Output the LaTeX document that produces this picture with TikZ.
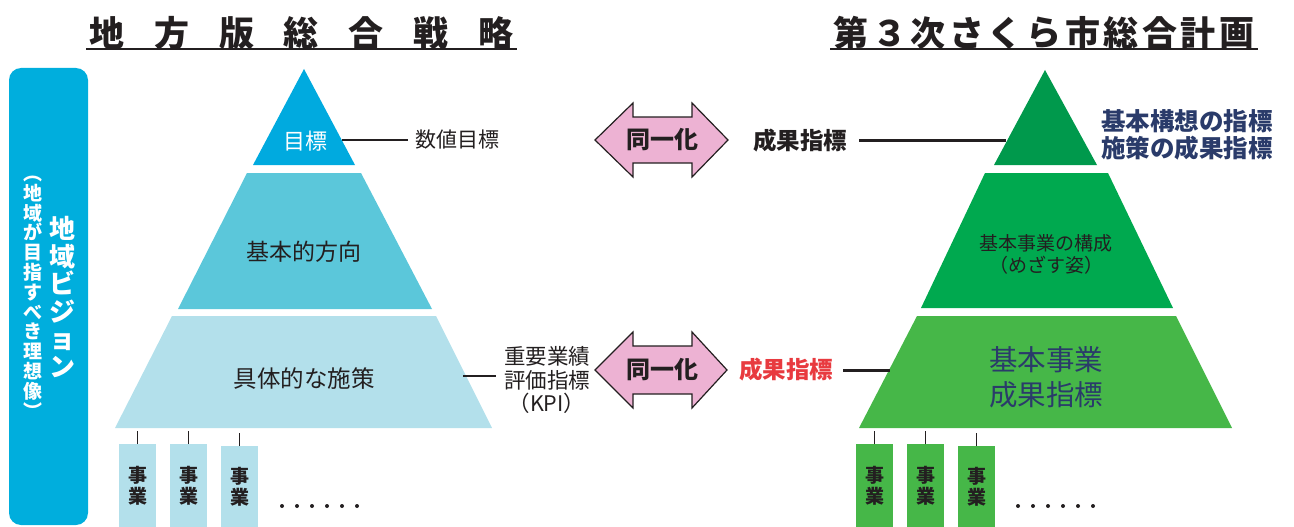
\documentclass[tikz,border=0pt]{standalone}
\usepackage{fontspec}
\setmainfont{Noto Sans CJK JP}
\usetikzlibrary{calc}
\definecolor{barblue}{HTML}{00AEDD}
\definecolor{topblue}{HTML}{00AADF}
\definecolor{midblue}{HTML}{5BC7DA}
\definecolor{lowblue}{HTML}{B3E0EB}
\definecolor{arrowpink}{HTML}{EDB2D3}
\definecolor{topgreen}{HTML}{00994C}
\definecolor{midgreen}{HTML}{00A94F}
\definecolor{lowgreen}{HTML}{46B748}
\definecolor{navy}{HTML}{2A3B6A}
\definecolor{redtxt}{HTML}{E83A3F}
\definecolor{ink}{HTML}{231F20}
\tikzset{
  every node/.style={inner sep=0pt, outer sep=0pt, text=ink},
  titlechar/.style={font=\bfseries\fontsize{35}{35}\selectfont},
  jbox/.style={anchor=north west, minimum width=37pt, align=center,
     font=\bfseries\fontsize{19}{21}\selectfont},
  tick/.style={draw=ink, line width=1.5pt},
  thinlink/.style={draw=ink, line width=1.5pt},
  thicklink/.style={draw=ink, line width=3pt},
  dblarrow/.style={fill=arrowpink, draw=ink, line width=1.2pt, line join=miter},
  dots/.style={fill=ink},
}
\begin{document}
\begin{tikzpicture}[x=1pt,y=-1pt]
\useasboundingbox (0,0) rectangle (1294,527);

% titles
\foreach \c [count=\i from 0] in {地,方,版,総,合,戦,略}
  \node[titlechar] (lt\i) at ({107+64.8*\i},33) {\c};
\draw[line width=2.2pt, draw=ink] (86,49) -- (517,49);
\foreach \c [count=\i from 0] in {第,３,次,さ,く,ら,市,総,合,計,画}
  \node[titlechar] (rt\i) at ({851+38.6*\i},33) {\c};
\draw[line width=2.2pt, draw=ink] (830,49) -- (1258,49);

% left vision bar
\fill[barblue, rounded corners=12pt] (9,68) rectangle (88,525);
\node[text=white, font=\bfseries\fontsize{26}{27.5}\selectfont, align=center]
  (vision) at (62,297) {地\\域\\ビ\\ジ\\ョ\\ン};
\node[text=white, font=\bfseries\fontsize{19}{19.8}\selectfont, align=center]
  (visionsub) at (33,297) {︵\\地\\域\\が\\目\\指\\す\\べ\\き\\理\\想\\像\\︶};

% left pyramid
\fill[topblue] (304,69) -- (355,165) -- (253,165) -- cycle;
\fill[midblue] (247,173) -- (361,173) -- (432,309) -- (178,309) -- cycle;
\fill[lowblue] (172,316) -- (436,316) -- (492,428) -- (115,428) -- cycle;
\node[text=white, font=\fontsize{22}{22}\selectfont] (goal) at (305,141) {目標};
\node[font=\fontsize{23}{23}\selectfont] (basic) at (304,252) {基本的方向};
\node[font=\fontsize{23.5}{23.5}\selectfont] (concrete) at (304,379) {具体的な施策};

\coordinate (goaledge) at (342,140);
\node[font=\fontsize{21}{21}\selectfont, anchor=west] (numgoal) at (415,140) {数値目標};
\draw[thinlink] (goaledge) -- ($(numgoal.west)+(-7,0)$);

\coordinate (kpiedge) at (463,376);
\node[font=\fontsize{21.5}{23.5}\selectfont, align=center] (kpi) at (547,380) {重要業績\\評価指標\\（KPI）};
\draw[thinlink] (kpiedge) -- (496,376);

% left jigyo boxes
\node[jbox, fill=lowblue, minimum height=83pt] (lb1) at (119,444) {事\\業};
\node[jbox, fill=lowblue, minimum height=83pt] (lb2) at (170,444) {事\\業};
\node[jbox, fill=lowblue, minimum height=81pt] (lb3) at (221,446) {事\\業};
\draw[tick] (lb1.north) -- ++(0,-13);
\draw[tick] (lb2.north) -- ++(0,-13);
\draw[tick] (lb3.north) -- ++(0,-13);
\foreach \k in {0,...,5} \fill[dots] ({282+15*\k},506) circle (2);

% arrows
\draw[dblarrow] (595,140) -- ++(38,-37) -- ++(0,14) -- ++(59,0) -- ++(0,-14)
  -- ++(36,37) -- ++(-36,37) -- ++(0,-14) -- ++(-59,0) -- ++(0,14) -- cycle;
\node[font=\bfseries\fontsize{24}{24}\selectfont] (same1) at (662,140) {同一化};
\draw[dblarrow] (595,370) -- ++(38,-38) -- ++(0,14) -- ++(59,0) -- ++(0,-14)
  -- ++(35,38) -- ++(-35,38) -- ++(0,-14) -- ++(-59,0) -- ++(0,14) -- cycle;
\node[font=\bfseries\fontsize{24}{24}\selectfont] (same2) at (662,370) {同一化};

% right labels
\node[font=\bfseries\fontsize{23.5}{23.5}\selectfont] (res1) at (800,141) {成果指標};
\coordinate (gtopedge) at (1006,140);
\node[text=redtxt, font=\bfseries\fontsize{23.5}{23.5}\selectfont] (res2) at (786,370) {成果指標};
\coordinate (glowedge) at (890,370);

% right pyramid
\fill[topgreen] (1045,70) -- (1097,165) -- (994,165) -- cycle;
\fill[midgreen] (985,173) -- (1108,173) -- (1173,308) -- (921,308) -- cycle;
\fill[lowgreen] (917,316) -- (1176,316) -- (1232,428) -- (859,428) -- cycle;
\draw[thicklink] ($(res1.east)+(12,-1)$) -- (gtopedge);
\draw[thicklink] ($(res2.east)+(10,0)$) -- (glowedge);

\node[text=navy, font=\bfseries\fontsize{24.5}{27}\selectfont, align=left, anchor=west]
  (kousou) at (1101,135) {基本構想の指標\\施策の成果指標};
\node[font=\fontsize{19}{22}\selectfont, align=center] (kousei) at (1046,254) {基本事業の構成\\（めざす姿）};
\node[text=navy, font=\fontsize{28.5}{35}\selectfont, align=center] (jigyoseika) at (1046,377) {基本事業\\成果指標};

% right jigyo boxes
\node[jbox, fill=lowgreen, minimum height=83pt] (rb1) at (856,444) {事\\業};
\node[jbox, fill=lowgreen, minimum height=83pt] (rb2) at (907,444) {事\\業};
\node[jbox, fill=lowgreen, minimum height=81pt] (rb3) at (958,446) {事\\業};
\draw[tick] (rb1.north) -- ++(0,-13);
\draw[tick] (rb2.north) -- ++(0,-13);
\draw[tick] (rb3.north) -- ++(0,-13);
\foreach \k in {0,...,5} \fill[dots] ({1018+15*\k},506) circle (2);
\end{tikzpicture}
\end{document}
